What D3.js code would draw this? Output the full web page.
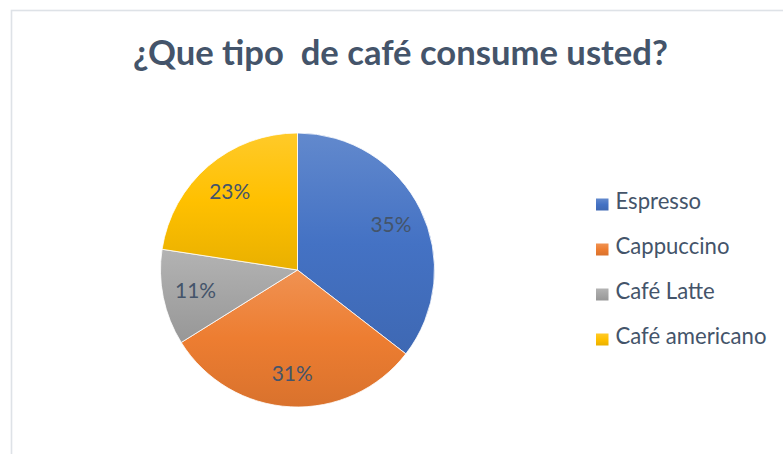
<!DOCTYPE html>
<html>
<head>
<meta charset="utf-8">
<script src="https://cdn.jsdelivr.net/npm/d3@7"></script>
<style>
  html, body { margin: 0; padding: 0; background: #fff; }
  svg { display: block; }
</style>
</head>
<body>
<svg id="chart" width="783" height="454"></svg>
<script>
const title = "¿Que tipo  de café consume usted?";
const categories = ["Espresso", "Cappuccino", "Café Latte", "Café americano"];
const values = [22, 19, 7, 14];
const baseColors = ["#4472C4", "#ED7D31", "#A5A5A5", "#FFC000"];

const W = 783, H = 454;
const svg = d3.select("#chart");
const FONT = "Lato, 'Open Sans', sans-serif";
const TEXT_COLOR = "#44546A";

// chart area border
svg.append("rect")
  .attr("x", 11.5).attr("y", 10.5)
  .attr("width", W + 10).attr("height", H + 10)
  .attr("fill", "#fff")
  .attr("stroke", "#DEE2E7").attr("stroke-width", 1.6);

function fitWidth(sel, node, targetWidth) {
  const fs0 = parseFloat(sel.attr("font-size"));
  const w = node.getComputedTextLength();
  const fs = fs0 * targetWidth / w;
  sel.attr("font-size", fs.toFixed(2));
  return fs;
}

// title
const t = svg.append("text")
  .attr("x", 400.5).attr("y", 65)
  .attr("text-anchor", "middle")
  .attr("font-family", FONT)
  .attr("font-weight", 700)
  .attr("font-size", 30)
  .attr("fill", TEXT_COLOR)
  .attr("xml:space", "preserve")
  .style("white-space", "pre")
  .text(title);
fitWidth(t, t.node(), 535);

// gradients
const defs = svg.append("defs");
baseColors.forEach((c, i) => {
  const base = d3.color(c);
  const g = defs.append("linearGradient")
    .attr("id", "grad" + i)
    .attr("x1", 0).attr("y1", 0).attr("x2", 0).attr("y2", 1);
  g.append("stop").attr("offset", "0%").attr("stop-color", d3.interpolateRgb(c, "#fff")(0.16));
  g.append("stop").attr("offset", "50%").attr("stop-color", c);
  g.append("stop").attr("offset", "100%").attr("stop-color", base.darker(0.25).formatHex());
});

// pie
const cx = 297.5, cy = 270, r = 137;
const pie = d3.pie().sort(null).value(d => d)(values);
const arc = d3.arc().innerRadius(0).outerRadius(r);
const labelArc = d3.arc().innerRadius(r * 0.76).outerRadius(r * 0.76);
const total = d3.sum(values);

const gPie = svg.append("g").attr("transform", `translate(${cx},${cy})`);
gPie.selectAll("path.slice")
  .data(pie)
  .join("path")
  .attr("class", "slice")
  .attr("d", arc)
  .attr("fill", (d, i) => `url(#grad${i})`)
  .attr("stroke", "#fff")
  .attr("stroke-width", 0.8)
  .attr("stroke-linejoin", "round");

const labels = gPie.selectAll("text.lbl")
  .data(pie)
  .join("text")
  .attr("class", "lbl")
  .attr("text-anchor", "middle")
  .attr("font-family", FONT)
  .attr("font-size", 20)
  .attr("fill", TEXT_COLOR)
  .text(d => Math.round(d.value / total * 100) + "%");
{
  const fs = fitWidth(labels, labels.nodes()[0], 41);
  const half = fs * 0.7165 / 2;
  labels.attr("x", d => labelArc.centroid(d)[0])
        .attr("y", d => labelArc.centroid(d)[1] + half);
}

// legend
const rowY = d3.scalePoint().domain(categories).range([209, 344]);
const items = svg.append("g").selectAll("g.item")
  .data(categories)
  .join("g")
  .attr("class", "item")
  .attr("transform", d => `translate(596,${rowY(d)})`);
items.append("rect")
  .attr("x", 0).attr("y", -10.5)
  .attr("width", 12.5).attr("height", 12)
  .attr("fill", (d, i) => `url(#grad${i})`);
const ltext = items.append("text")
  .attr("x", 19.5).attr("y", 0)
  .attr("font-family", FONT)
  .attr("font-size", 20)
  .attr("fill", TEXT_COLOR)
  .text(d => d);
fitWidth(ltext, ltext.nodes()[3], 151);
</script>
</body>
</html>
